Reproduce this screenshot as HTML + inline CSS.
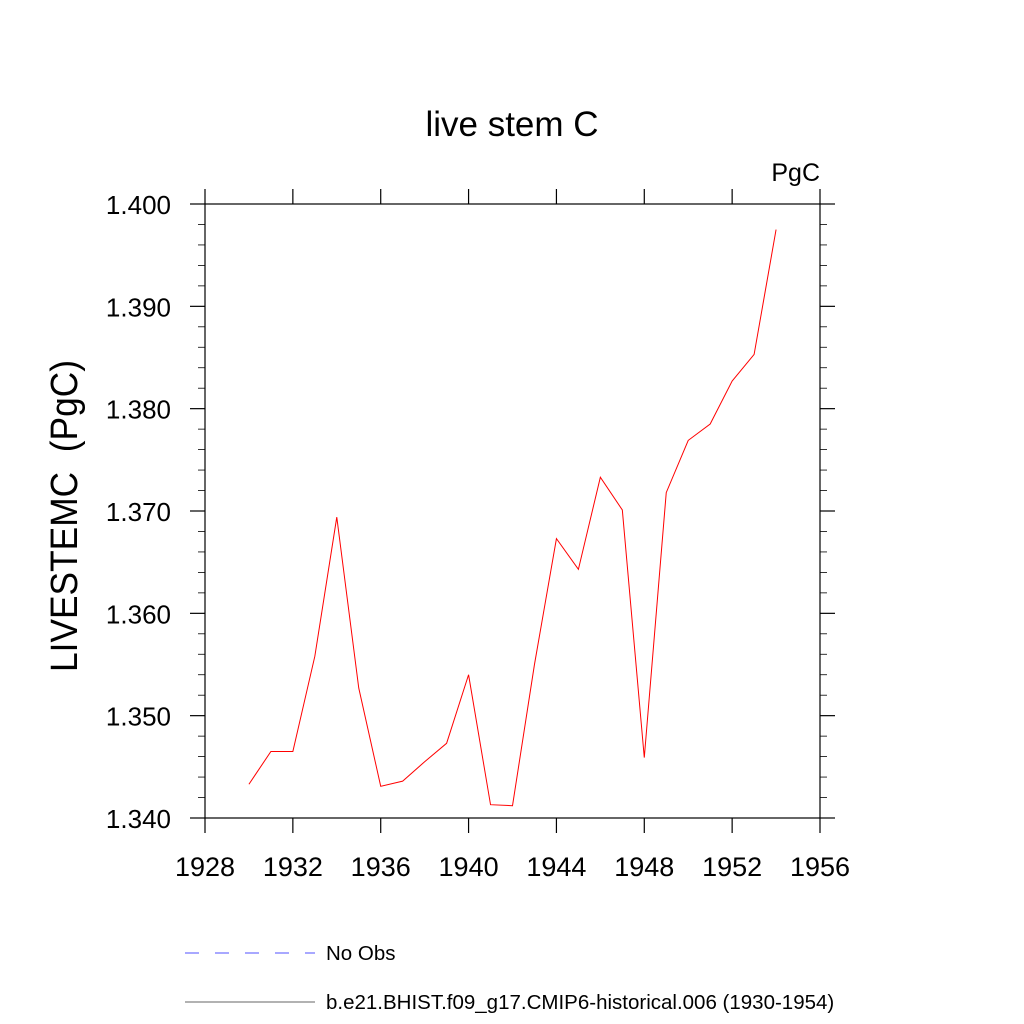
<!DOCTYPE html>
<html><head><meta charset="utf-8"><style>
body{margin:0;background:#fff;}
svg{display:block;font-family:"Liberation Sans",sans-serif;}
</style></head><body>
<svg id="c" width="1024" height="1024">
<text x="512" y="136" font-size="35" text-anchor="middle">live stem C</text>
<text x="820" y="181" font-size="25" text-anchor="end">PgC</text>
<text transform="translate(77,516) rotate(-90)" font-size="38" text-anchor="middle" textLength="312" lengthAdjust="spacingAndGlyphs">LIVESTEMC&#160;&#160;(PgC)</text>
<g id="axes"></g>
<g id="series"></g>
<g>
<line x1="185" y1="953" x2="315" y2="953" stroke="#5050ff" stroke-width="1" stroke-dasharray="14,16"/>
<text x="326" y="960" font-size="20.5">No Obs</text>
<line x1="185" y1="1002" x2="315" y2="1002" stroke="#666" stroke-width="1"/>
<text x="326" y="1009" font-size="20.5">b.e21.BHIST.f09_g17.CMIP6-historical.006 (1930-1954)</text>
</g>
</svg>
<script>
const years=[1930,1931,1932,1933,1934,1935,1936,1937,1938,1939,1940,1941,1942,1943,1944,1945,1946,1947,1948,1949,1950,1951,1952,1953,1954];
const values=[1.3433,1.3465,1.3465,1.3558,1.3694,1.3527,1.3431,1.3436,1.3455,1.3473,1.3540,1.3413,1.3412,1.3550,1.3673,1.3643,1.3733,1.3701,1.3459,1.3718,1.3769,1.3785,1.3827,1.3853,1.3975];
const xTicks=[1928,1932,1936,1940,1944,1948,1952,1956];
const yTicks=[1.34,1.35,1.36,1.37,1.38,1.39,1.40];
const yTickLabels=["1.340","1.350","1.360","1.370","1.380","1.390","1.400"];
const L=205,R=820,T=204,B=818;
const xs=v=>L+(v-1928)/28*(R-L);
const ys=v=>B-(v-1.34)/0.06*(B-T);
const NS="http://www.w3.org/2000/svg";
function mk(tag,attrs,parent){const e=document.createElementNS(NS,tag);for(const k in attrs)e.setAttribute(k,attrs[k]);parent.appendChild(e);return e;}
const ax=document.getElementById('axes');
const box=mk('rect',{x:L,y:T,width:R-L,height:B-T,fill:'none',stroke:'#000','stroke-width':1.2},ax);


xTicks.forEach(t=>{const x=xs(t);
 mk('line',{x1:x,y1:B,x2:x,y2:B+15,stroke:'#000','stroke-width':1.2},ax);
 mk('line',{x1:x,y1:T,x2:x,y2:T-15,stroke:'#000','stroke-width':1.2},ax);
 const tx=mk('text',{x:x,y:876,'font-size':27,'text-anchor':'middle'},ax);tx.textContent=t;
 
 
});
for(let i=0;i<=30;i++){const v=1.34+i*0.002;const y=ys(v);const major=i%5===0;const len=major?15:7;
 mk('line',{x1:L,y1:y,x2:L-len,y2:y,stroke:'#000','stroke-width':major?1.2:0.8},ax);
 mk('line',{x1:R,y1:y,x2:R+len,y2:y,stroke:'#000','stroke-width':major?1.2:0.8},ax);}
yTicks.forEach((t,i)=>{const tx=mk('text',{x:171,y:ys(t)+10,'font-size':26,'text-anchor':'end'},ax);tx.textContent=yTickLabels[i];
 
 
});
const pl=mk('polyline',{points:years.map((y,i)=>xs(y)+','+ys(values[i])).join(' '),fill:'none',stroke:'#ff0000','stroke-width':1},document.getElementById('series'));


</script>
</body></html>
